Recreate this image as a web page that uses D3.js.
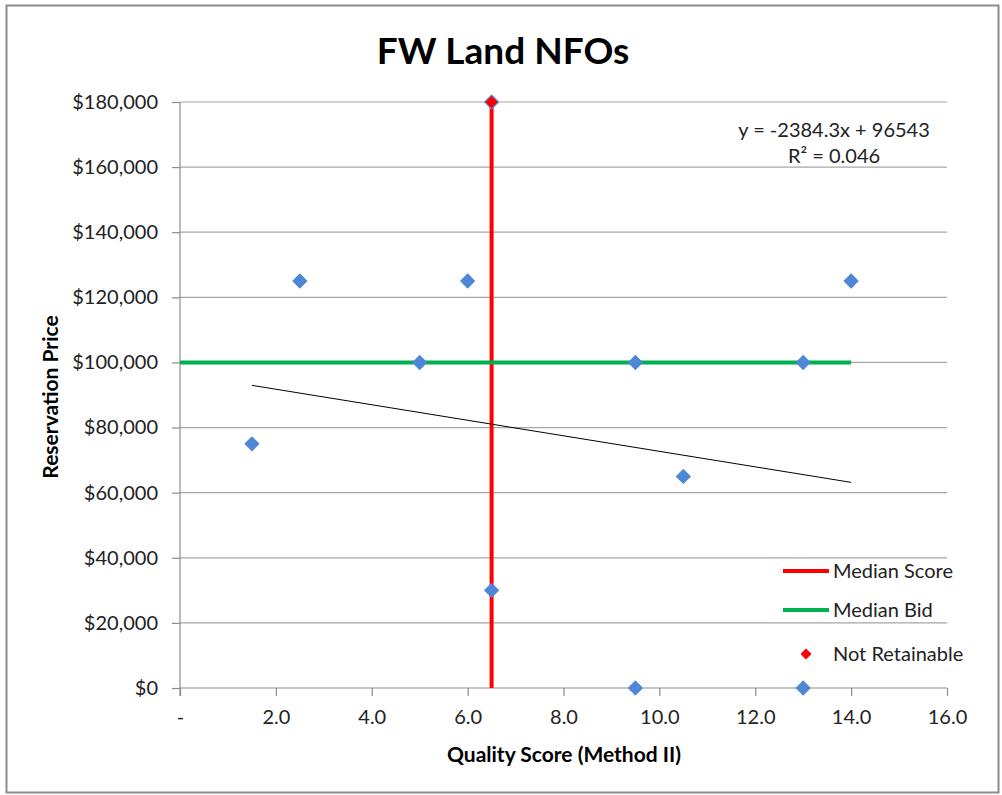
<!DOCTYPE html>
<html><head><meta charset="utf-8">
<script src="https://cdn.jsdelivr.net/npm/d3@7"></script>
<style>body{margin:0;background:#fff;} text{font-family:Lato,"Open Sans",sans-serif;}</style>
</head><body>
<svg id="c" width="1002" height="795"></svg>
<script>
const scoreX = [1.5, 2.5, 5, 6, 6.5, 6.5, 9.5, 9.5, 10.5, 13, 13, 14];
const priceY = [75000, 125000, 100000, 125000, 180000, 30000, 100000, 0, 65000, 100000, 0, 125000];
const notRetainableX = [6.5];
const notRetainableY = [180000];
const medianScore = 6.5;
const medianBid = 100000;
const medianBidRange = [0, 14];
const trendSlope = -2384.3, trendIntercept = 96543;
const trendRange = [1.5, 14];
const xTicks = [0, 2, 4, 6, 8, 10, 12, 14, 16];
const yTicks = [0, 20000, 40000, 60000, 80000, 100000, 120000, 140000, 160000, 180000];
const legendLabels = ["Median Score", "Median Bid", "Not Retainable"];

const svg = d3.select("#c");
svg.append("rect").attr("x", 6.5).attr("y", 5.5).attr("width", 992).attr("height", 787)
  .attr("fill", "#fff").attr("stroke", "#8c8c8c").attr("stroke-width", 2);

const L = 180, R = 947, T = 102, B = 688;
const x = d3.scaleLinear().domain([0, 16]).range([L, R]);
const y = d3.scaleLinear().domain([0, 180000]).range([B, T]);

// gridlines
svg.append("g").selectAll("line").data(yTicks.filter(d => d > 0)).join("line")
  .attr("x1", L).attr("x2", R).attr("y1", d => y(d)).attr("y2", d => y(d))
  .attr("stroke", "#a6a6a6").attr("stroke-width", 1.2);

// axes
const fmtY = d => "$" + d3.format(",")(d);
const yAxis = svg.append("g").attr("transform", `translate(${L},0)`)
  .call(d3.axisLeft(y).tickValues(yTicks).tickFormat(fmtY).tickSize(8).tickPadding(14));
const xAxis = svg.append("g").attr("transform", `translate(0,${B})`)
  .call(d3.axisBottom(x).tickValues(xTicks).tickFormat(d => d === 0 ? "-" : d3.format(".1f")(d)).tickSize(8).tickPadding(14));
[yAxis, xAxis].forEach(a => {
  a.select(".domain").attr("stroke", "#8c8c8c").attr("stroke-width", 1.2);
  a.selectAll(".tick line").attr("stroke", "#8c8c8c").attr("stroke-width", 1.2);
  a.selectAll("text").attr("fill", "#222").style("font-size", "20px").style("font-family", "Lato, sans-serif");
});
xAxis.select(".domain").attr("d", `M${L},0H${R}`);
yAxis.select(".domain").attr("d", `M0,${y(180000)}V${B + 8}`);

// median lines
svg.append("line").attr("x1", x(medianScore)).attr("x2", x(medianScore)).attr("y1", y(180000)).attr("y2", y(0))
  .attr("stroke", "#ff0000").attr("stroke-width", 4);
svg.append("line").attr("x1", x(medianBidRange[0])).attr("x2", x(medianBidRange[1])).attr("y1", y(medianBid)).attr("y2", y(medianBid))
  .attr("stroke", "#00b050").attr("stroke-width", 4);

// trendline
svg.append("line").attr("x1", x(trendRange[0])).attr("x2", x(trendRange[1]))
  .attr("y1", y(trendSlope * trendRange[0] + trendIntercept)).attr("y2", y(trendSlope * trendRange[1] + trendIntercept))
  .attr("stroke", "#000").attr("stroke-width", 1);

// points
const diamond = d3.symbol().type(d3.symbolSquare).size(118);
const pts = scoreX.map((d, i) => [d, priceY[i]]);
svg.append("g").selectAll("path").data(pts).join("path")
  .attr("d", diamond).attr("transform", d => `translate(${x(d[0])},${y(d[1])}) rotate(45)`)
  .attr("fill", "#4f86d6");
svg.append("g").selectAll("path").data(notRetainableX.map((d, i) => [d, notRetainableY[i]])).join("path")
  .attr("d", d3.symbol().type(d3.symbolSquare).size(75)).attr("transform", d => `translate(${x(d[0])},${y(d[1])}) rotate(45)`)
  .attr("fill", "#ff0000");

// equation
svg.append("text").attr("x", 834).attr("y", 137).attr("text-anchor", "middle").style("font-size", "20px").attr("fill", "#222")
  .text("y = -2384.3x + 96543");
svg.append("text").attr("x", 834).attr("y", 163).attr("text-anchor", "middle").style("font-size", "20px").attr("fill", "#222")
  .text("R² = 0.046");

// title
svg.append("text").attr("x", 503).attr("y", 64).attr("text-anchor", "middle")
  .style("font-size", "37px").style("font-weight", "bold").attr("fill", "#000").text("FW Land NFOs");
// axis titles
svg.append("text").attr("x", 564).attr("y", 762).attr("text-anchor", "middle")
  .style("font-size", "21px").style("font-weight", "bold").attr("fill", "#000").text("Quality Score (Method II)");
svg.append("text").attr("transform", "translate(58,397) rotate(-90)").attr("text-anchor", "middle")
  .style("font-size", "21px").style("font-weight", "bold").attr("fill", "#000").text("Reservation Price");

// legend
const lg = svg.append("g");
const ly = [571, 610, 654];
lg.append("line").attr("x1", 783).attr("x2", 829).attr("y1", ly[0]).attr("y2", ly[0]).attr("stroke", "#ff0000").attr("stroke-width", 4);
lg.append("line").attr("x1", 783).attr("x2", 829).attr("y1", ly[1]).attr("y2", ly[1]).attr("stroke", "#00b050").attr("stroke-width", 4);
lg.append("path").attr("d", d3.symbol().type(d3.symbolSquare).size(60)).attr("transform", `translate(806,${ly[2]}) rotate(45)`).attr("fill", "#ff0000");
lg.selectAll("text").data(legendLabels).join("text")
  .attr("x", 833).attr("y", (d, i) => ly[i]).attr("dy", "0.35em")
  .style("font-size", "20px").attr("fill", "#222").text(d => d);
</script>
</body></html>
